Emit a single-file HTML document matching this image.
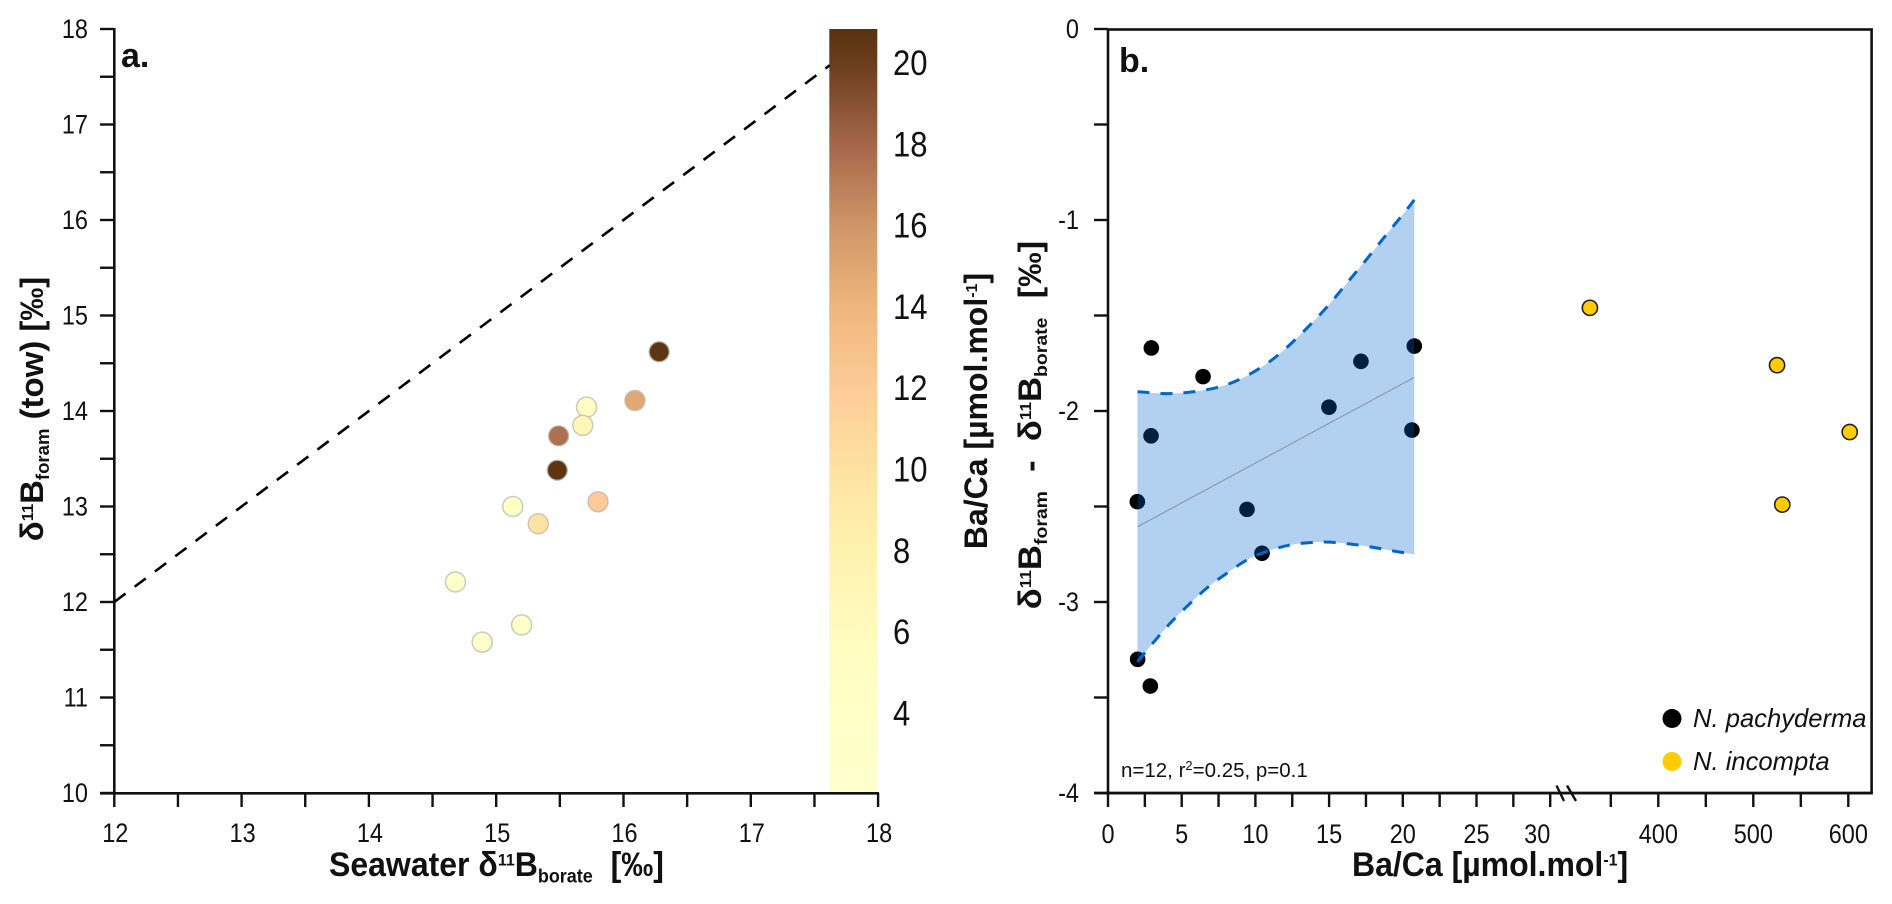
<!DOCTYPE html>
<html lang="en">
<head>
<meta charset="utf-8">
<title>Boron isotope and Ba/Ca charts</title>
<style>
html,body{margin:0;padding:0;background:#fff;width:1892px;height:904px;overflow:hidden}
svg{display:block}
text{font-family:"Liberation Sans",sans-serif;fill:#111}
.tick{font-size:23.5px}
.title{font-size:32px;font-weight:bold}
.sm{font-size:18px}
.sp{font-size:16px}
</style>
</head>
<body>
<svg id="chart" xmlns="http://www.w3.org/2000/svg" width="1892" height="904" viewBox="0 0 1892 904">
  <defs>
    <linearGradient id="cbar-gradient" x1="0" y1="0" x2="0" y2="1"></linearGradient>
  </defs>
  <g id="panel-a"></g>
  <g id="panel-b"></g>

  <text x="121" y="67" font-size="34" font-weight="bold">a.</text>
  <text x="1119" y="72" font-size="34" font-weight="bold">b.</text>

  <text class="title" transform="translate(329 876) scale(1 1.06)" xml:space="preserve">Seawater δ<tspan class="sp" dy="-10">11</tspan><tspan dy="10">B</tspan><tspan class="sm" dy="6">borate</tspan><tspan dy="-6">  [‰]</tspan></text>
  <text class="title" text-anchor="middle" transform="translate(43 409) rotate(-90) scale(1.03 1)" xml:space="preserve">δ<tspan class="sp" dy="-10">11</tspan><tspan dy="10">B</tspan><tspan class="sm" dy="6">foram</tspan><tspan dy="-6"> (tow) [‰]</tspan></text>
  <text class="title" text-anchor="middle" transform="translate(987 411) rotate(-90)">Ba/Ca [µmol.mol<tspan class="sp" dy="-10">-1</tspan><tspan dy="10">]</tspan></text>
  <text class="title" text-anchor="middle" transform="translate(1041 425) rotate(-90) scale(1.08 1)" xml:space="preserve">δ<tspan class="sp" dy="-10">11</tspan><tspan dy="10">B</tspan><tspan class="sm" dy="6">foram</tspan><tspan dy="-6">  -  δ</tspan><tspan class="sp" dy="-10">11</tspan><tspan dy="10">B</tspan><tspan class="sm" dy="6">borate</tspan><tspan dy="-6">  [‰]</tspan></text>
  <text class="title" transform="translate(1352 876) scale(1 1.06)">Ba/Ca [µmol.mol<tspan class="sp" dy="-10">-1</tspan><tspan dy="10">]</tspan></text>

  <text x="1121" y="777" font-size="20.5">n=12, r<tspan font-size="13" dy="-7">2</tspan><tspan dy="7">=0.25, p=0.1</tspan></text>

  <g>
    <circle cx="1672" cy="718.5" r="9.5" fill="#000"></circle>
    <text x="1693" y="727" font-size="25.6" font-style="italic">N. pachyderma</text>
    <circle cx="1672" cy="761.5" r="9.5" fill="#ffcc00"></circle>
    <text x="1693" y="770" font-size="25.6" font-style="italic">N. incompta</text>
  </g>
</svg>
<script>
// Panel a: seawater vs foram values
const seawaterBorate = [16.28, 16.09, 15.71, 15.68, 15.49, 15.48, 15.80, 15.13, 15.33, 14.68, 15.20, 14.89];
const foramTow = [14.62, 14.11, 14.04, 13.85, 13.74, 13.38, 13.05, 13.00, 12.82, 12.21, 11.76, 11.58];
const baCaValues = [20.6, 14.9, 4.8, 7, 17.6, 20.6, 12, 4, 10, 3.6, 3, 3.2];
const aXTicks = [12, 12.5, 13, 13.5, 14, 14.5, 15, 15.5, 16, 16.5, 17, 17.5, 18];
const aXLabels = [12, 13, 14, 15, 16, 17, 18];
const aYTicks = [10, 10.5, 11, 11.5, 12, 12.5, 13, 13.5, 14, 14.5, 15, 15.5, 16, 16.5, 17, 17.5, 18];
const aYLabels = [10, 11, 12, 13, 14, 15, 16, 17, 18];
const oneToOne = [12, 17.62];
// Colour bar
const scaleValues = [2.1, 4, 6, 8, 10, 12, 14, 16, 18, 20, 20.8];
const scaleColors = ['#ffffcc', '#ffffc8', '#fffbbd', '#fff2b0', '#fde2a2', '#fdcb98', '#eeb67c', '#cf9668', '#a5664a', '#6a3d1c', '#5a3210'];
const scaleLabels = [4, 6, 8, 10, 12, 14, 16, 18, 20];
// Panel b: N. pachyderma
const pachyBaCa = [2.94, 6.45, 2.92, 14.99, 17.16, 20.78, 20.62, 1.99, 9.43, 10.45, 2.01, 2.87];
const pachyDelta = [-1.67, -1.82, -2.13, -1.98, -1.74, -1.66, -2.10, -2.475, -2.515, -2.745, -3.30, -3.44];
// Panel b: N. incompta
const incomptaBaCa = [328, 525, 601.5, 530.5];
const incomptaDelta = [-1.46, -1.76, -2.11, -2.49];
// Panel b: regression and confidence band
const fitX = [2, 20.78];
const fitY = [-2.606, -1.824];
const upperX = [2, 3.98, 5.79, 7.6, 9.18, 10.77, 12.12, 13.48, 14.84, 16.19, 17.55, 18.9, 20.15, 20.78];
const upperY = [-1.899, -1.909, -1.899, -1.873, -1.825, -1.752, -1.668, -1.567, -1.457, -1.332, -1.205, -1.075, -0.957, -0.895];
const lowerX = [2, 3.07, 4.21, 5.45, 6.69, 8.05, 9.52, 11.22, 12.8, 14.61, 16.3, 18, 19.59, 20.78];
const lowerY = [-3.313, -3.213, -3.112, -3.016, -2.928, -2.85, -2.776, -2.724, -2.696, -2.686, -2.695, -2.714, -2.736, -2.75];
const bXTicks = [0, 2.5, 5, 7.5, 10, 12.5, 15, 17.5, 20, 22.5, 25, 27.5, 30, 350, 400, 450, 500, 550, 600];
const bXLabels = [0, 5, 10, 15, 20, 25, 30, 400, 500, 600];
const bYTicks = [0, -0.5, -1, -1.5, -2, -2.5, -3, -3.5, -4];
const bYLabels = [0, -1, -2, -3, -4];

const NS = 'http://www.w3.org/2000/svg';
const panelA = document.getElementById('panel-a');
const panelB = document.getElementById('panel-b');
const ax = v => 114.3 + (v - 12) * 127.3;
const ay = v => 29 + (18 - v) * 95.5;
const cy = v => 63 + (20 - v) * 40.65;
const bx = v => v <= 30 ? 1108 + v * 14.74 : 1658.3 + (v - 400) * 0.95;
const by = v => 29 - v * 191;

function node(tag, parent, props, text) {
  const el = document.createElementNS(NS, tag);
  for (const k in props) el.setAttribute(k, props[k]);
  if (text !== undefined) el.textContent = text;
  parent.appendChild(el);
  return el;
}
function stretched(x, y) { return 'translate(' + x + ' ' + y + ') scale(1 1.14)'; }
function hex(c) { return [1, 3, 5].map(i => parseInt(c.slice(i, i + 2), 16)); }
function colorFor(v) {
  let i = 0;
  while (i < scaleValues.length - 2 && v > scaleValues[i + 1]) i++;
  const t = Math.max(0, Math.min(1, (v - scaleValues[i]) / (scaleValues[i + 1] - scaleValues[i])));
  const a = hex(scaleColors[i]), b = hex(scaleColors[i + 1]);
  return 'rgb(' + a.map((x, k) => Math.round(x + (b[k] - x) * t)).join(',') + ')';
}
function pathOf(xs, ys, fx, fy) {
  return xs.map((x, i) => [fx(x), fy(ys[i])]);
}
function smooth(p) {
  let d = 'M' + p[0][0] + ' ' + p[0][1];
  for (let i = 0; i < p.length - 1; i++) {
    const p0 = p[i - 1] || p[i], p1 = p[i], p2 = p[i + 1], p3 = p[i + 2] || p2;
    d += ' C' + (p1[0] + (p2[0] - p0[0]) / 6) + ' ' + (p1[1] + (p2[1] - p0[1]) / 6) + ' ' +
      (p2[0] - (p3[0] - p1[0]) / 6) + ' ' + (p2[1] - (p3[1] - p1[1]) / 6) + ' ' + p2[0] + ' ' + p2[1];
  }
  return d;
}

/* ---------- colour bar ---------- */
const grad = document.getElementById('cbar-gradient');
scaleValues.map((v, i) => i).reverse().forEach(i => {
  const off = (cy(scaleValues[i]) - 29) / (792 - 29);
  node('stop', grad, { offset: Math.max(0, Math.min(1, off)), 'stop-color': scaleColors[i] });
});
const cbar = node('rect', panelA, { x: 829.3, y: 29, width: 48, height: 763, fill: 'url(#cbar-gradient)' });


scaleLabels.forEach(v => {
  const t = node('text', panelA, { transform: stretched(893, cy(v) + 12), 'font-size': 31 }, String(v));
  
  
});

/* ---------- panel a axes ---------- */
const aAxisY = node('line', panelA, { x1: 114.3, y1: 28, x2: 114.3, y2: 793.5, stroke: '#111', 'stroke-width': 2.6 });


const aAxisX = node('line', panelA, { x1: 100, y1: 793.3, x2: 879, y2: 793.3, stroke: '#111', 'stroke-width': 2.6 });


aXTicks.forEach(v => {
  const l = node('line', panelA, { x1: ax(v), y1: 793, x2: ax(v), y2: 807, stroke: '#111', 'stroke-width': 2.4 });
  
  
});
aYTicks.forEach(v => {
  const l = node('line', panelA, { x1: 100, y1: ay(v), x2: 114, y2: ay(v), stroke: '#111', 'stroke-width': 2.4 });
  
  
});
aXLabels.forEach(v => {
  const t = node('text', panelA, { class: 'tick', transform: stretched(ax(v) + 1, 842), 'text-anchor': 'middle' }, String(v));
  
  
});
aYLabels.forEach(v => {
  const t = node('text', panelA, { class: 'tick', transform: stretched(88, ay(v) + 9), 'text-anchor': 'end' }, String(v));
  
  
});

/* ---------- panel a marks ---------- */
const refLine = node('line', panelA, {
  x1: ax(oneToOne[0]), y1: ay(oneToOne[0]), x2: ax(oneToOne[1]), y2: ay(oneToOne[1]),
  stroke: '#000', 'stroke-width': 2.6, 'stroke-dasharray': '14 11.4'
});


seawaterBorate.forEach((x, i) => {
  const c = node('circle', panelA, {
    cx: ax(x), cy: ay(foramTow[i]), r: 10,
    fill: colorFor(baCaValues[i]), stroke: '#b9b9a8', 'stroke-opacity': 0.75, 'stroke-width': 1.5
  });
  
  
});

/* ---------- panel b frame ---------- */
const frame = node('rect', panelB, { x: 1108, y: 29.5, width: 763.6, height: 763.6, fill: 'none', stroke: '#111', 'stroke-width': 2.6 });


const bAxisX = node('line', panelB, { x1: 1094, y1: 793.1, x2: 1872, y2: 793.1, stroke: '#111', 'stroke-width': 2.6 });


bXTicks.forEach(v => {
  const l = node('line', panelB, { x1: bx(v), y1: 793, x2: bx(v), y2: 807, stroke: '#111', 'stroke-width': 2.4 });
  
  
});
bYTicks.forEach(v => {
  const l = node('line', panelB, { x1: 1094, y1: by(v), x2: 1108, y2: by(v), stroke: '#111', 'stroke-width': 2.4 });
  
  
});
bXLabels.forEach(v => {
  const nudge = v === 30 ? -13 : 0;
  const t = node('text', panelB, { class: 'tick', transform: stretched(bx(v) + nudge, 843), 'text-anchor': 'middle' }, String(v));
  
  
});
bYLabels.forEach(v => {
  const t = node('text', panelB, { class: 'tick', transform: stretched(1079, by(v) + 9), 'text-anchor': 'end' }, String(v));
  
  
});
[[1556.5, 1564], [1567, 1576]].forEach(s => {
  const l = node('line', panelB, { x1: s[0], y1: 785.5, x2: s[1], y2: 801, stroke: '#111', 'stroke-width': 2.4 });
  
  
});

/* ---------- panel b marks ---------- */
pachyBaCa.forEach((x, i) => {
  const c = node('circle', panelB, { cx: bx(x), cy: by(pachyDelta[i]), r: 7.8, fill: '#000' });
  
  
});
incomptaBaCa.forEach((x, i) => {
  const c = node('circle', panelB, { cx: bx(x), cy: by(incomptaDelta[i]), r: 7.6, fill: '#ffcc00', stroke: '#222', 'stroke-width': 1.6 });
  
  
});
const up = pathOf(upperX, upperY, bx, by);
const lo = pathOf(lowerX, lowerY, bx, by);
const loRev = lo.slice().reverse();
const bandD = smooth(up) + ' L' + loRev[0][0] + ' ' + loRev[0][1] + smooth(loRev).replace(/^M[^C]*/, ' ') + ' Z';
const band = node('path', panelB, { d: bandD, fill: '#0066cc', 'fill-opacity': 0.3 });


const fit = node('line', panelB, { x1: bx(fitX[0]), y1: by(fitY[0]), x2: bx(fitX[1]), y2: by(fitY[1]), stroke: '#7f92a6', 'stroke-width': 1 });


const upLine = node('path', panelB, { d: smooth(up), fill: 'none', stroke: '#0066cc', 'stroke-width': 3, 'stroke-dasharray': '12 11' });


const loLine = node('path', panelB, { d: smooth(lo), fill: 'none', stroke: '#0066cc', 'stroke-width': 3, 'stroke-dasharray': '12 11' });


</script>
</body>
</html>
